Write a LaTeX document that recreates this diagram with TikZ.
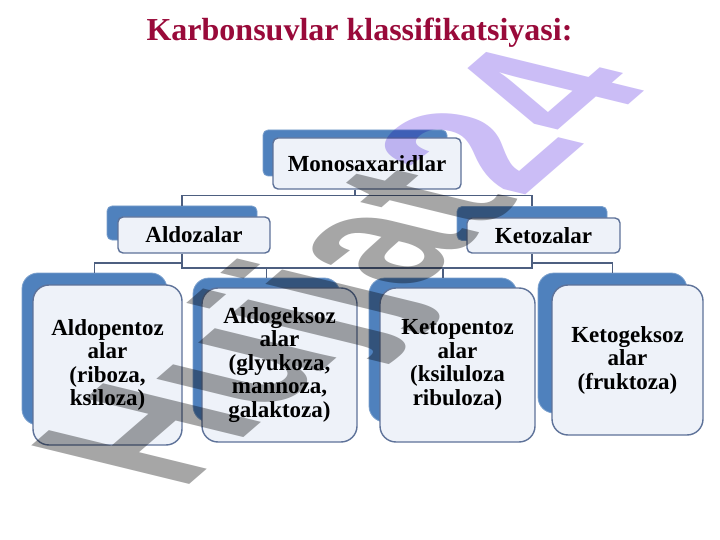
\documentclass[tikz,border=0pt]{standalone}
\usepackage{fontspec}
\setmainfont{Liberation Serif}
\newfontfamily\wmfont{Liberation Sans}
\definecolor{smblue}{HTML}{4F81BD}
\definecolor{smpale}{HTML}{EEF2F9}
\definecolor{smedge}{HTML}{5E7299}
\definecolor{smline}{HTML}{4D5F80}
\definecolor{titlered}{HTML}{990A3A}
\definecolor{wmgray}{HTML}{A6A6A6}
\definecolor{wmlilac}{HTML}{CBBDF6}
\newcommand{\boxfont}{\fontsize{23}{23.5}\selectfont\bfseries}

\begin{document}
\begin{tikzpicture}[x=1pt,y=-1pt,
    backbox/.style={fill=smblue, draw=smblue!75!white, line width=0.8pt, rounded corners=5pt, inner sep=0pt},
    frontbox/.style={fill=smpale, draw=smedge, line width=1.4pt, rounded corners=5pt, inner sep=0pt, align=center, font=\boxfont},
    leafback/.style={backbox, rounded corners=16pt},
    leafbox/.style={frontbox, rounded corners=16pt},
    link/.style={draw=smline, line width=1.4pt}]
    \fill[white] (0,0) rectangle (720,540);
    \useasboundingbox (0,0) rectangle (720,540);

    \node[font=\fontsize{32}{36}\selectfont\bfseries, text=titlered] (title) at (359.5,33) {Karbonsuvlar klassifikatsiyasi:};

    % top level
    \node[backbox, minimum width=184pt, minimum height=46pt] (monoB) at (355,153) {};
    \node[frontbox, minimum width=188pt, minimum height=51pt] (mono) at (367,163.5) {Monosaxaridlar};

    % second level
    \node[backbox, minimum width=150pt, minimum height=34pt] (aldoB) at (182,223) {};
    \node[frontbox, minimum width=152pt, minimum height=36pt] (aldo) at (194,235) {Aldozalar};
    \node[backbox, minimum width=150pt, minimum height=34pt] (ketoB) at (532,223.5) {};
    \node[frontbox, minimum width=153pt, minimum height=35pt] (keto) at (543.5,235.5) {Ketozalar};

    % leaves
    \node[leafback, minimum width=145pt, minimum height=152pt] (pentB) at (94.5,349) {};
    \node[leafbox, minimum width=149pt, minimum height=160pt] (pent) at (107.5,365) {Aldopentoz\\alar\\(riboza,\\ksiloza)};
    \node[leafback, minimum width=147pt, minimum height=144pt] (geksB) at (266.5,350) {};
    \node[leafbox, minimum width=155pt, minimum height=154pt] (geks) at (279.5,365) {Aldogeksoz\\alar\\(glyukoza,\\mannoza,\\galaktoza)};
    \node[leafback, minimum width=148pt, minimum height=144pt] (ketpB) at (443,350) {};
    \node[leafbox, minimum width=155pt, minimum height=154pt] (ketp) at (457.5,365) {Ketopentoz\\alar\\(ksiluloza\\ribuloza)};
    \node[leafback, minimum width=149pt, minimum height=140pt] (ketgB) at (612.5,343) {};
    \node[leafbox, minimum width=151pt, minimum height=150pt] (ketg) at (627.5,360) {Ketogeksoz\\alar\\(fruktoza)};

    % connectors
    \coordinate (bus) at (0,268);
    \coordinate (bus2) at (0,263);
    \draw[link] (monoB.center |- mono.south) -- ++(0,6) -| (aldoB.north);
    \draw[link] (monoB.center |- mono.south) -- ++(0,6) -| (ketoB.north);
    \draw[link] (aldoB.center |- aldo.south) -- (aldoB.center |- bus) -- (ketoB.center |- bus) -- (ketoB.center |- keto.south);
    \draw[link] (aldoB.center |- bus2) -| (pentB.north);
    \draw[link] (ketoB.center |- bus2) -| (ketgB.north);
    \draw[link] (geksB.north) -- (geksB.north |- bus);
    \draw[link] (ketpB.north) -- (ketpB.north |- bus);

    % watermark
    \begin{scope}[shift={(360,272)}, yscale=0.46, blend mode=multiply]
        \node[rotate=62, transform shape, inner sep=0pt, font=\wmfont\bfseries\fontsize{260}{260}\selectfont] (wm) at (0,0) {\textcolor{wmgray}{Hujjat}\textcolor{wmlilac}{24}};
    \end{scope}
\end{tikzpicture}
\end{document}
